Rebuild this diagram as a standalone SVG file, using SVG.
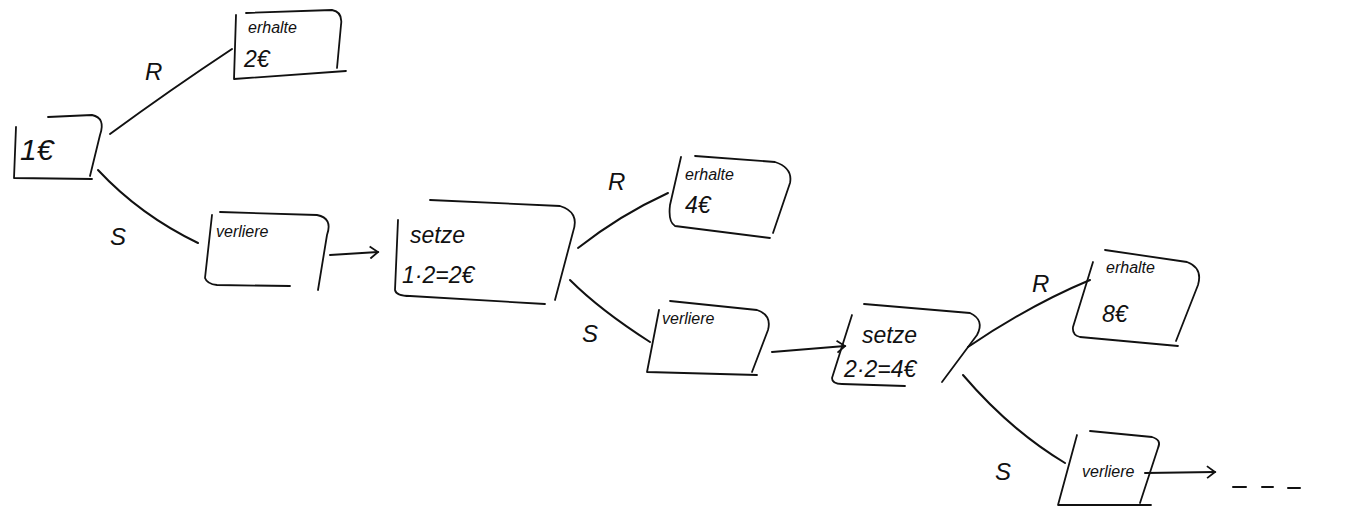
<svg xmlns="http://www.w3.org/2000/svg" width="1350" height="518" viewBox="0 0 1350 518">
<style>
.b{fill:none;stroke:#111;stroke-width:1.8;stroke-linecap:round;stroke-linejoin:round}
.e{fill:none;stroke:#111;stroke-width:2;stroke-linecap:round}
.t{font-family:"Liberation Sans",sans-serif;font-style:italic;fill:#111}
.s{font-size:16px}
.m{font-size:23px}
.l{font-size:30px}
.lbl{font-family:"Liberation Sans",sans-serif;font-style:italic;font-size:24px;fill:#111}
</style>
<defs>
<marker id="ah" markerWidth="12" markerHeight="14" refX="10" refY="7" orient="auto" markerUnits="userSpaceOnUse">
<path d="M2,1 L10,7 L2,13" fill="none" stroke="#111" stroke-width="1.8"/>
</marker>
</defs>
<rect width="1350" height="518" fill="#fff"/>
<g id="connectors">
<path class="e" d="M232,49 Q170,90 110,134"/>
<path class="e" d="M98,170 Q140,215 198,243"/>
<path class="e" d="M330,255 L378,252" marker-end="url(#ah)"/>
<path class="e" d="M668,193 Q620,215 578,248"/>
<path class="e" d="M570,280 Q600,310 650,342"/>
<path class="e" d="M772,352 L845,346" marker-end="url(#ah)"/>
<path class="e" d="M968,347 Q1030,305 1090,280"/>
<path class="e" d="M963,375 Q1010,430 1065,463"/>
<path class="e" d="M1145,473 L1215,472" marker-end="url(#ah)"/>
<path class="e" d="M1233,487 L1246,487 M1262,487 L1273,487 M1288,488 L1300,488"/>
<text class="lbl" x="145" y="80">R</text>
<text class="lbl" x="110" y="245">S</text>
<text class="lbl" x="608" y="190">R</text>
<text class="lbl" x="582" y="342">S</text>
<text class="lbl" x="1032" y="292">R</text>
<text class="lbl" x="995" y="480">S</text>
</g>
<g id="n1">
<path class="b" d="M16,127 L14,178 L92,179 M48,117 L92,115 Q106,118 100,135 L90,176"/>
<text class="t l" x="20" y="160">1€</text>
</g>
<g id="n2">
<path class="b" d="M236,15 L234,79 L346,71 M246,13 L332,10 Q343,12 341,25 L337,68"/>
<text class="t s" x="248" y="33">erhalte</text>
<text class="t m" x="244" y="67">2€</text>
</g>
<g id="n3">
<path class="b" d="M212,215 L205,278 Q207,284 217,285 L290,286 M220,212 L317,215 Q333,218 327,235 L318,290"/>
<text class="t s" x="216" y="237">verliere</text>
</g>
<g id="n4">
<path class="b" d="M398,220 L395,290 Q396,296 410,296 L545,304 M430,200 L560,206 Q580,212 573,232 L555,300"/>
<text class="t m" x="410" y="243">setze</text>
<text class="t m" x="402" y="283">1·2=2€</text>
</g>
<g id="n5">
<path class="b" d="M681,157 L670,205 Q668,222 675,226 L770,238 M695,156 L775,162 Q793,168 790,183 L773,233"/>
<text class="t s" x="685" y="180">erhalte</text>
<text class="t m" x="685" y="213">4€</text>
</g>
<g id="n6">
<path class="b" d="M659,310 L647,372 L757,375 M670,301 L757,310 Q772,315 768,330 L752,372"/>
<text class="t s" x="662" y="324">verliere</text>
</g>
<g id="n7">
<path class="b" d="M852,315 L832,378 Q832,384 842,384 L905,386 M864,304 L970,313 Q985,320 977,335 L942,382"/>
<text class="t m" x="862" y="343">setze</text>
<text class="t m" x="844" y="377">2·2=4€</text>
</g>
<g id="n8">
<path class="b" d="M1093,262 L1073,327 Q1072,335 1080,337 L1178,346 M1105,250 L1187,262 Q1203,268 1198,285 L1176,341"/>
<text class="t s" x="1106" y="273">erhalte</text>
<text class="t m" x="1102" y="322">8€</text>
</g>
<g id="n9">
<path class="b" d="M1077,435 L1058,505 L1151,505 M1090,431 L1152,437 Q1162,440 1158,448 L1140,503"/>
<text class="t s" x="1082" y="477">verliere</text>
</g>
</svg>
